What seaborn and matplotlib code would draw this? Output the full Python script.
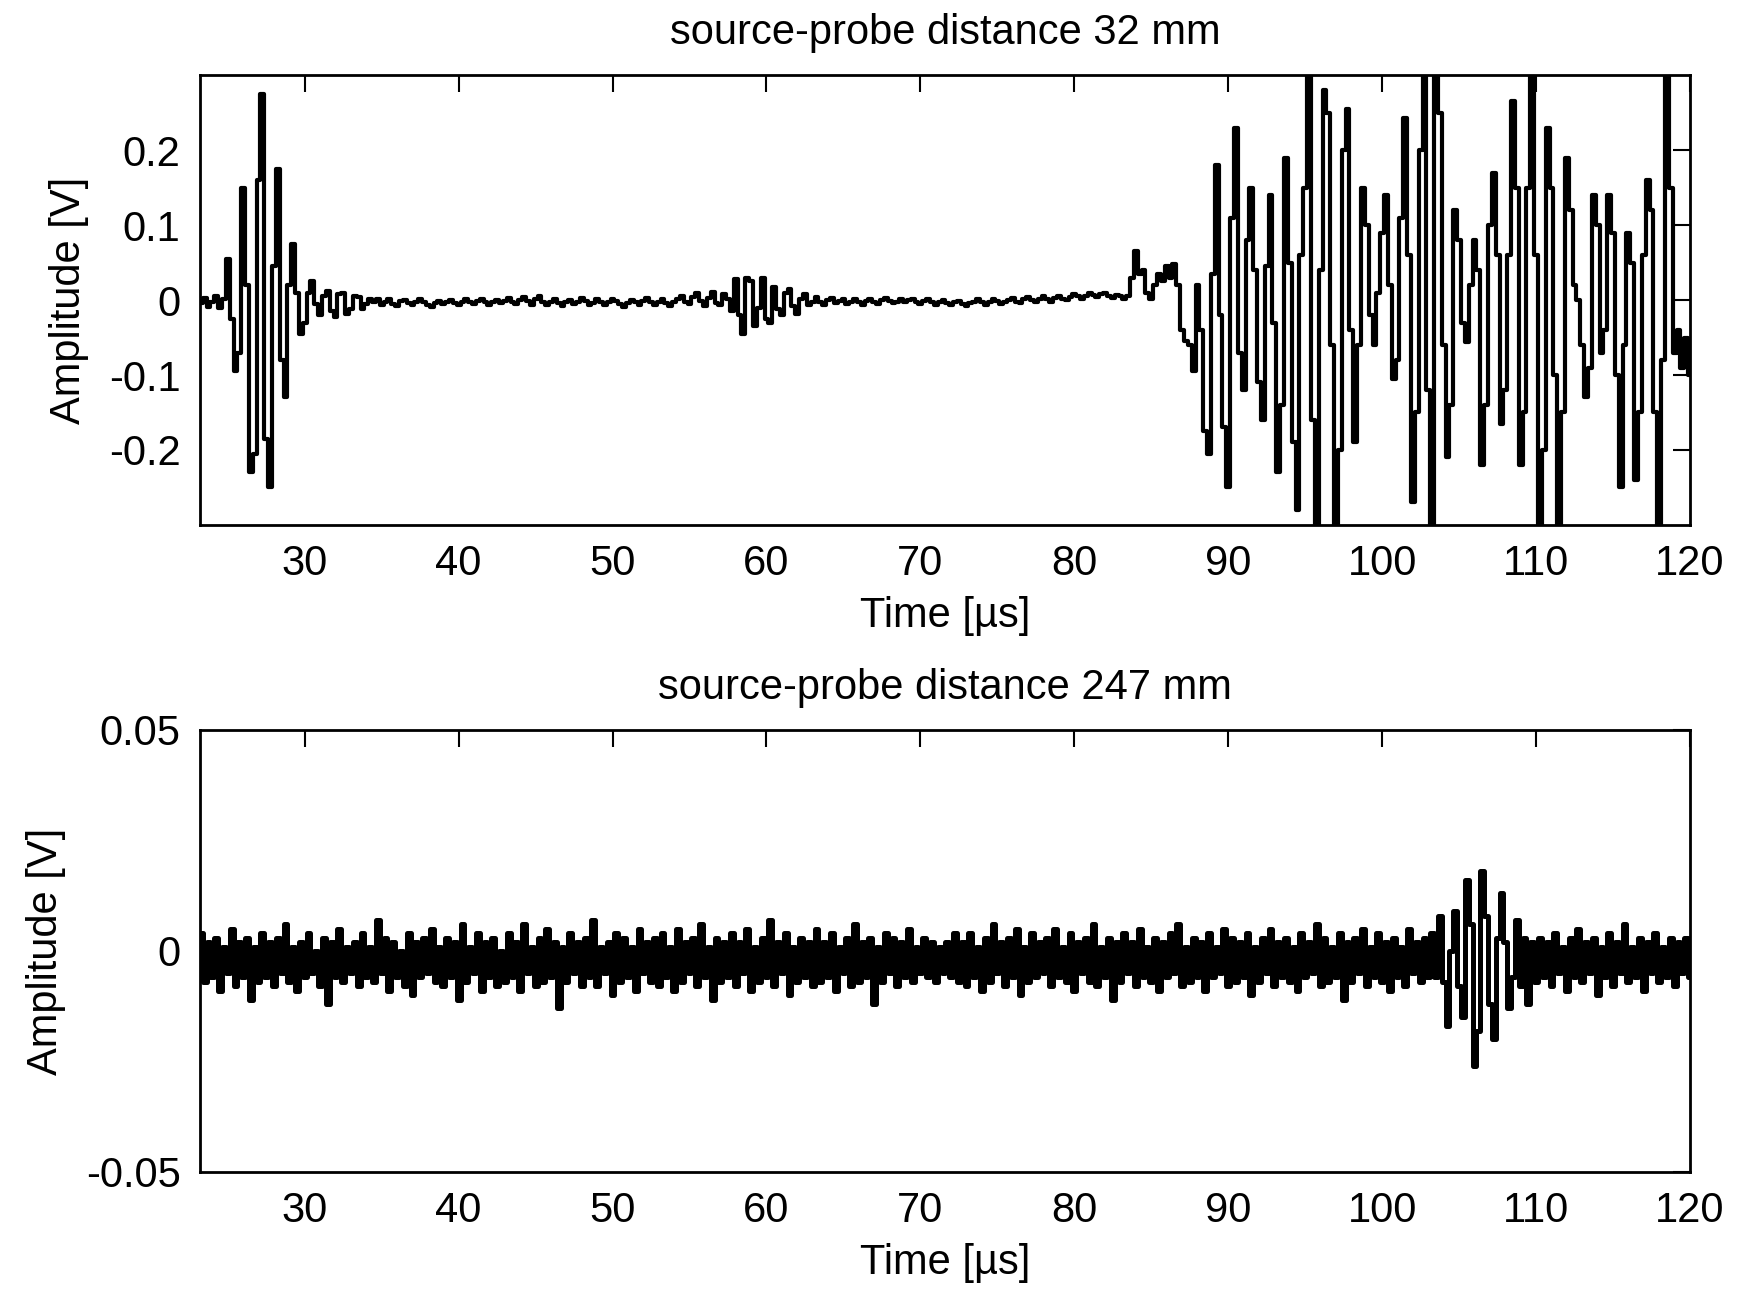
import numpy as np
import pandas as pd
import matplotlib
matplotlib.use("Agg")
import matplotlib.pyplot as plt
import seaborn as sns

# Sampling grid shared by both records (microseconds)
t_start_us = 23.25
dt_us = 0.25

# Received signal, source-probe distance 32 mm (mV)
amp_32mm_mV = [
    -4, 3, -9, -3, 5, -10, 2,
    55, -25, -95, -70, 150, 20, -230, -205, 160, 275,
    -185, -250, 45, 175, -80, -130, 20, 75, 10, -45,
    -30, 10, 25, -5, -20, 5, 12, -15, -22, 8,
    10, -18, -12, 6, 4, -12, -5, 2,
    # quiet stretch
    -3, 1, -6, -2, 2, -5, -8, -1, 0, -4, -7, -2, 1, -3, -6, -9, -4, -1, -5, -3,
    0, -4, -7, -2, 1, -3, -5, -1, 2, -2, -6, -3, 0, -4, -1, 3, -2, -5, 0, 4,
    -1, -6, 2, 5, -3, -7, -2, 1, -4, -8, -3, 0, -5, -2, 3, -1, -6, -4, 1, -2,
    -7, -3, 2, -1, -5, -9, -4, 0, -2, -6, -1, 3, -3, -7, -2, 1, -4, -8, -3, 2,
    6, -2, -5, 4, 9, -1, -8, 3, 11, -4, -6, 8, 2,
    # small echo near 59 us
    -15, 28, -20, -45, 30, 25, -35, -10, 30, -25, -30, 18, -12, -20, 10,
    # quiet stretch
    15, -8, -18, 2, 8, -6, -3, 4, -2, -7, 0, 3, -4, -1, 2, -5, -2, 1, -3, -6,
    -1, 2, -2, -5, 0, 3, -1, -4, -2, 1, -3, 0, 2, -2, -5, -1, 1, -3, -6, -2,
    0, -4, -7, -3, -1, -5, -8, -4, -2, 1, -3, -6, -2, 2, -1, -5, -3, 0, 3, -2,
    -4, 1, 4, 0, -3, 2, 5, 1, -2, 3, 6, 2, 0, 4, 8, 5, 2, 6, 9, 7,
    4, 8, 10, 6, 3, 7, 5, 2,
    # precursor bumps
    5, 30, 65, 35, 40, 10, 2, 20, 35, 25, 45, 30, 48, 20, -40, -55, -60, -95,
    # main arrival
    20, -40, -175, -205, 35, 180, -20, -170, -250, 110,
    230, -70, -120, 80, 150, 40, -110, -160, 45, 140,
    -30, -230, -140, 190, 50, -190, -280, 60, 150, 320,
    -160, -320, 40, 280, 250, -60, -320, -200, 200, 255,
    -40, -190, -60, 150, 100, -20, -60, 10, 90, 140,
    20, -105, -80, 110, 243, 60, -270, -150, 200, 320,
    -120, -320, 320, 250,
    -60, -210, -140, 120, 80, -30, -56, 20, 80, 40,
    -220, -140, 100, 170, 60, -166, -120, 60, 265, 150,
    -220, -150, 150, 310, 60, -320, -200, 230, 150, -100,
    -320, -150, 190, 120, 20, 0, -60, -130, -90, 140,
    100, -70, -40, 140, 90, -100, -250, -60, 90, 50,
    -240, -150, 60, 160, 120, -150, -320, -80, 320, 150,
    -70, -40, -90, -50, -100,
]

# Received signal, source-probe distance 247 mm (mV)
amp_247mm_mV = [
    4, -7, 2, -6, 3, -9, 1, -5, 5, -8, 2, -6, 3, -11, 1, -7, 4, -6, 2, -8,
    3, -5, 6, -7, 1, -9, 2, -6, 4, -5, 0, -8, 3, -12, 2, -6, 5, -7, 1, -5,
    2, -8, 4, -6, 1, -7, 7, -5, 3, -9, 2, -6, 0, -8, 4, -10, 2, -6, 3, -5,
    5, -7, 1, -8, 3, -6, 2, -11, 6, -7, 1, -5, 4, -9, 2, -6, 3, -8, 0, -7,
    4, -6, 2, -9, 6, -5, 1, -8, 3, -7, 5, -6, 2, -13, 1, -7, 4, -5, 2, -8,
    3, -6, 7, -8, 1, -5, 2, -10, 4, -7, 3, -6, 1, -9, 5, -5, 2, -7, 3, -8,
    4, -6, 1, -9, 5, -7, 2, -5, 3, -8, 6, -6, 1, -11, 3, -7, 2, -6, 4, -8,
    2, -5, 5, -9, 1, -7, 3, -6, 7, -8, 2, -5, 4, -10, 1, -7, 3, -6, 2, -8,
    5, -7, 2, -6, 4, -9, 1, -5, 3, -8, 6, -7, 2, -6, 3, -12, 1, -7, 4, -5,
    3, -8, 2, -6, 5, -7, 1, -5, 3, -6, 2, -7, 1, -5, 2, -6, 4, -7, 2, -8,
    4, -6, 1, -9, 3, -7, 6, -5, 2, -8, 3, -6, 5, -10, 1, -7, 4, -6, 2, -5,
    3, -8, 5, -6, 1, -7, 4, -9, 2, -5, 3, -7, 6, -8, 1, -6, 3, -11, 2, -7,
    4, -5, 2, -8, 5, -6, 1, -7, 3, -9, 2, -6, 4, -5, 6, -8, 1, -7, 3, -6,
    2, -9, 4, -6, 1, -5, 5, -8, 3, -7, 2, -6, 4, -10, 1, -7, 3, -5, 5, -8,
    2, -6, 3, -7, 1, -9, 4, -6, 2, -5, 6, -8, 3, -7, 1, -6, 4, -11, 2, -7,
    3, -5, 5, -8, 1, -6, 4, -7, 2, -9, 3, -6, 1, -8, 5, -5, 2, -7, 3, -6,
    4,
    # wave packet near 106 us
    -6, 8, -7, -17, 0, 9, -8, -15, 16, 6, -26, -18, 18, 8, -12, -20, 3, 13, 2, -13,
    -6, 7, -8, 3, -12, 2,
    -7, 3, -6, 2, -8, 4, -5, 1, -9, 3, -6, 5, -7, 2, -5, 3, -10, 1, -6, 4,
    -8, 2, -5, 6, -7, 1, -6, 3, -9, 2, -5, 4, -7, 1, -6, 3, -8, 2, -5, 3,
    -6,
]

titles = ["source-probe distance 32 mm", "source-probe distance 247 mm"]
ylims = [(-0.3, 0.3), (-0.05, 0.05)]
yticks = [[-0.2, -0.1, 0, 0.1, 0.2], [-0.05, 0, 0.05]]
ytick_labels = [["-0.2", "-0.1", "0", "0.1", "0.2"], ["-0.05", "0", "0.05"]]
xticks = [30, 40, 50, 60, 70, 80, 90, 100, 110, 120]
xlim = (23.2, 120)
trace_widths = [3.0, 3.6]

sns.set_style("white")
plt.rcParams["font.family"] = ["Liberation Sans", "DejaVu Sans"]
plt.rcParams["font.size"] = 30
plt.rcParams["text.color"] = "black"
plt.rcParams["axes.labelcolor"] = "black"
plt.rcParams["xtick.color"] = "black"
plt.rcParams["ytick.color"] = "black"

fig = plt.figure(figsize=(17.41, 12.94), dpi=100)
ax_top = fig.add_axes([0.1149, 0.5943, 0.8558, 0.3477])
ax_bot = fig.add_axes([0.1149, 0.0943, 0.8558, 0.3416])

for ax, values, title, ylim, yt, ytl, lw in zip(
    [ax_top, ax_bot], [amp_32mm_mV, amp_247mm_mV], titles, ylims, yticks,
    ytick_labels, trace_widths
):
    v = np.asarray(values, dtype=float) / 1000.0
    t = t_start_us + dt_us * np.arange(len(v))
    df = pd.DataFrame({"time": t, "amp": v})
    sns.lineplot(data=df, x="time", y="amp", ax=ax, color="black",
                 linewidth=lw, drawstyle="steps-mid", estimator=None, sort=False)
    ax.set_xlim(*xlim)
    ax.set_ylim(*ylim)
    ax.set_xticks(xticks)
    ax.set_xticklabels([str(x) for x in xticks])
    ax.set_yticks(yt)
    ax.set_yticklabels(ytl)
    ax.set_title(title, fontsize=30, pad=22, color="black")
    ax.set_xlabel("Time [µs]", fontsize=30, labelpad=8)
    ax.set_ylabel("Amplitude [V]", fontsize=30, labelpad=14)
    ax.tick_params(direction="in", length=12, width=1.5, top=True, right=True,
                   labelsize=30, pad=14, colors="black")
    for sp in ax.spines.values():
        sp.set_visible(True)
        sp.set_color("black")
        sp.set_linewidth(2.0)

fig.savefig("out.png", dpi=100, facecolor="white")
